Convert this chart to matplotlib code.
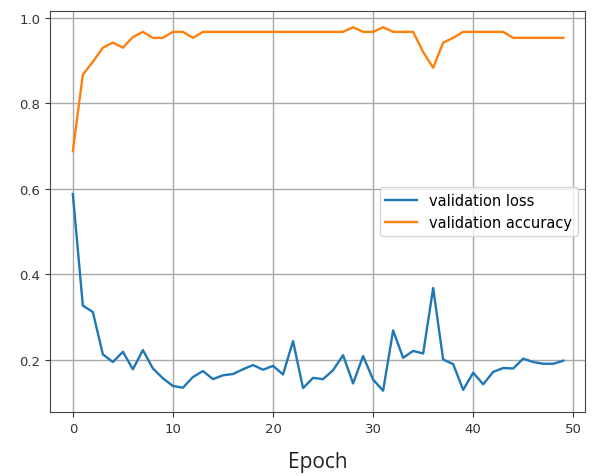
import numpy as np
import matplotlib
matplotlib.use("Agg")
import matplotlib.pyplot as plt

epochs = np.arange(50)

val_loss = [0.588, 0.327, 0.312, 0.213, 0.195, 0.219, 0.178, 0.223, 0.180, 0.157,
            0.139, 0.135, 0.160, 0.174, 0.155, 0.164, 0.167, 0.178, 0.188, 0.177,
            0.186, 0.166, 0.244, 0.134, 0.158, 0.155, 0.176, 0.211, 0.145, 0.209,
            0.154, 0.128, 0.269, 0.205, 0.221, 0.215, 0.368, 0.201, 0.190, 0.130,
            0.170, 0.143, 0.172, 0.181, 0.180, 0.203, 0.195, 0.191, 0.191, 0.198]

val_acc = [0.688, 0.867, 0.897, 0.930, 0.942, 0.930, 0.955, 0.967, 0.953, 0.953,
           0.967, 0.967, 0.953, 0.967, 0.967, 0.967, 0.967, 0.967, 0.967, 0.967,
           0.967, 0.967, 0.967, 0.967, 0.967, 0.967, 0.967, 0.967, 0.978, 0.967,
           0.967, 0.978, 0.967, 0.967, 0.967, 0.920, 0.883, 0.942, 0.953, 0.967,
           0.967, 0.967, 0.967, 0.967, 0.953, 0.953, 0.953, 0.953, 0.953, 0.953]

fig = plt.figure(figsize=(5.93, 4.77), dpi=100)
ax = fig.add_axes([0.084, 0.134, 0.903, 0.841])

ax.plot(epochs, val_loss, color='#1f77b4', lw=1.7, label='validation loss')
ax.plot(epochs, val_acc, color='#ff7f0e', lw=1.7, label='validation accuracy')

ax.set_xlim(-2.3, 51.2)
ax.set_ylim(0.078, 1.016)
ax.set_xticks(range(0, 51, 10))
ax.set_yticks([0.2, 0.4, 0.6, 0.8, 1.0])
ax.tick_params(labelsize=9.5, colors='#333333')
ax.grid(True, color='#a8a8a8', lw=1.0)
for s in ax.spines.values():
    s.set_color('#444444')

ax.set_xlabel('Epoch', fontsize=15, family='Open Sans', color='#222222', labelpad=12)
ax.legend(loc='center right', fontsize=10.5, handlelength=2.2)

plt.savefig('out.png', dpi=100)
